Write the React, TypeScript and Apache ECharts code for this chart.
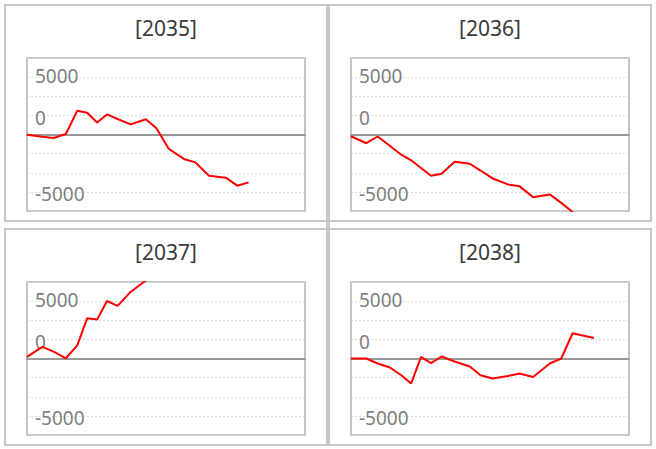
import React, { useEffect, useRef } from 'react';
import * as echarts from 'echarts';

const panelTitles = ['[2035]', '[2036]', '[2037]', '[2038]'];
// shared x positions (day of year)
const xDays = [0, 20, 35, 51, 66, 79, 92, 105, 119, 136, 156, 170, 186, 206, 221, 239, 261, 276, 291, 319];
const values2035 = [-20, -190, -305, 45, 2070, 1900, 1050, 1750, 1350, 880, 1330, 550, -1240, -2130, -2430, -3590, -3760, -4460, -4170];
const values2036 = [-150, -760, -175, -980, -1760, -2250, -2920, -3590, -3420, -2380, -2550, -3140, -3830, -4350, -4500, -5460, -5220, -5960, -6750];
const values2037 = [140, 1010, 600, 20, 1150, 3500, 3390, 5010, 4580, 5800, 6800, 7600];
const values2038 = [0, 0, -435, -785, -1460, -2175, 140, -410, 175, -260, -695, -1460, -1750, -1525, -1315, -1610, -435, 0, 2200, 1795];
const seriesValues = [values2035, values2036, values2037, values2038];
// tick index (multiples of the grid step) -> label
const tickLabelIndex = [3, 1, -3];
const tickLabelText = ['5000', '0', '-5000'];
const tickLabelStyle = ['up', 'down', 'down'];

const STEP = 5000 / 3;
const FONT = '"Noto Sans", "Open Sans", sans-serif';

export default function App() {
  const ref = useRef<HTMLDivElement>(null);
  useEffect(() => {
    if (!ref.current) return;
    const chart = echarts.init(ref.current, undefined, { renderer: 'svg' });
    const grids = [
      { left: 27, top: 58 },
      { left: 351, top: 58 },
      { left: 27, top: 282 },
      { left: 351, top: 282 },
    ];
    const boxes = [
      { x: 5, y: 5 },
      { x: 329, y: 5 },
      { x: 5, y: 229 },
      { x: 329, y: 229 },
    ];
    const graphic: any[] = [];
    boxes.forEach((b, i) => {
      graphic.push({
        type: 'rect',
        shape: { x: b.x, y: b.y, width: 322, height: 216 },
        style: { fill: 'none', stroke: '#c8c8c8', lineWidth: 2 },
        silent: true,
      });
      graphic.push({
        type: 'text',
        x: b.x + 161,
        y: b.y + 22.5,
        style: {
          text: panelTitles[i],
          fill: '#3a3a3a',
          fontSize: 21,
          fontFamily: FONT,
          textAlign: 'center',
          textVerticalAlign: 'middle',
        },
        silent: true,
      });
    });
    graphic.push({
      type: 'rect',
      shape: { x: 326, y: 221, width: 4, height: 8 },
      style: { fill: '#c8c8c8' },
      silent: true,
    });

    const labelBase = { color: '#808080', fontSize: 19, fontFamily: FONT };
    const option: any = {
      animation: false,
      backgroundColor: '#ffffff',
      graphic,
      grid: grids.map((g) => ({
        left: g.left,
        top: g.top,
        width: 278,
        height: 153,
        show: true,
        borderColor: '#c4c4c4',
        borderWidth: 2,
        backgroundColor: 'transparent',
        containLabel: false,
      })),
      xAxis: grids.map((_, i) => ({
        type: 'value',
        gridIndex: i,
        min: 0,
        max: 365,
        axisLine: { show: true, onZero: true, lineStyle: { color: '#999999', width: 2 } },
        axisTick: { show: false },
        axisLabel: { show: false },
        splitLine: { show: false },
      })),
      yAxis: grids.map((_, i) => ({
        type: 'value',
        gridIndex: i,
        min: -4 * STEP,
        max: 4 * STEP,
        interval: STEP,
        axisLine: { show: false },
        axisTick: { show: false },
        axisLabel: {
          inside: true,
          margin: 8,
          ...labelBase,
          hideOverlap: false,
          showMinLabel: true,
          showMaxLabel: true,
          rich: {
            up: { ...labelBase, padding: [0, 0, 3, 0] },
            down: { ...labelBase, padding: [5, 0, 0, 0] },
          },
          formatter: (v: number) => {
            const k = Math.round(v / STEP);
            const idx = tickLabelIndex.indexOf(k);
            return idx >= 0 ? `{${tickLabelStyle[idx]}|${tickLabelText[idx]}}` : '';
          },
        },
        splitLine: { show: true, lineStyle: { color: '#dadada', width: 1, type: [2, 2] } },
      })),
      series: seriesValues.map((vals, i) => ({
        type: 'line',
        xAxisIndex: i,
        yAxisIndex: i,
        data: vals.map((v, j) => [xDays[j], v]),
        showSymbol: false,
        symbol: 'none',
        clip: true,
        lineStyle: { color: '#ff0000', width: 2 },
        itemStyle: { color: '#ff0000' },
        silent: true,
      })),
    };
    chart.setOption(option);
    return () => chart.dispose();
  }, []);
  return (
    <div
      ref={ref}
      style={{ position: 'absolute', left: 0, top: 0, width: 656, height: 449, background: '#fff' }}
    />
  );
}
